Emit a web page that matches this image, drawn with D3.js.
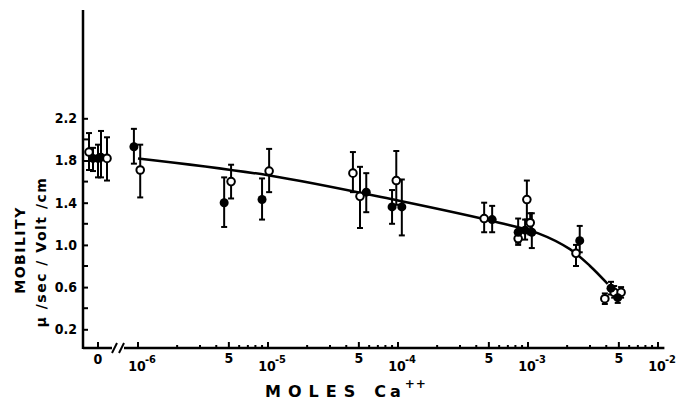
<!DOCTYPE html>
<html>
<head>
<meta charset="utf-8">
<script src="https://cdn.jsdelivr.net/npm/d3@7"></script>
<style>
  body { margin: 0; background: #fff; }
  svg { display: block; }
  text { font-family: "DejaVu Sans Condensed", "DejaVu Sans", sans-serif; font-weight: bold; fill: #000; }
</style>
</head>
<body>
<div id="chart"></div>
<script>
// open circles: concentration (M), mobility, error bar top, error bar bottom
var openConc = [1.04e-6, 5.2e-6, 1.02e-5, 4.5e-5, 5.1e-5, 9.7e-5, 4.6e-4, 8.4e-4, 9.8e-4, 1.04e-3, 2.34e-3, 3.9e-3, 4.6e-3, 5.2e-3];
var openMob  = [1.71, 1.60, 1.70, 1.68, 1.46, 1.61, 1.25, 1.06, 1.43, 1.21, 0.92, 0.49, 0.55, 0.55];
var openHi   = [1.95, 1.76, 1.91, 1.88, 1.74, 1.89, 1.40, 1.14, 1.61, 1.30, 1.00, 0.54, 0.61, 0.60];
var openLo   = [1.45, 1.44, 1.50, 1.50, 1.16, 1.38, 1.12, 1.00, 1.24, 1.10, 0.80, 0.44, 0.50, 0.50];

// filled circles
var filledConc = [9.3e-7, 4.6e-6, 9.0e-6, 5.7e-5, 9.0e-5, 1.07e-4, 5.3e-4, 8.4e-4, 9.5e-4, 1.07e-3, 2.5e-3, 4.35e-3, 4.9e-3];
var filledMob  = [1.93, 1.40, 1.43, 1.50, 1.36, 1.36, 1.24, 1.12, 1.14, 1.12, 1.04, 0.59, 0.50];
var filledHi   = [2.10, 1.64, 1.63, 1.68, 1.52, 1.62, 1.37, 1.25, 1.24, 1.30, 1.18, 0.65, 0.56];
var filledLo   = [1.77, 1.17, 1.24, 1.31, 1.20, 1.09, 1.12, 1.02, 1.05, 0.97, 0.93, 0.53, 0.45];

// points at zero calcium, spread a little around the "0" tick
var zeroJitter = [-0.9, -0.5, 0.0, 0.3, 0.9];
var zeroOpen   = [true, false, false, false, true];
var zeroMob    = [1.88, 1.82, 1.82, 1.83, 1.82];
var zeroHi     = [2.06, 1.92, 1.95, 2.08, 2.02];
var zeroLo     = [1.71, 1.70, 1.64, 1.64, 1.61];

// fitted curve
var curveConc = [1e-6, 1e-5, 1e-4, 6e-4, 1.2e-3, 2.1e-3, 3e-3, 4.1e-3];
var curveMob  = [1.82, 1.66, 1.42, 1.21, 1.11, 0.96, 0.80, 0.63];

var yTicks = [0.2, 0.6, 1.0, 1.4, 1.8, 2.2];
var yMinor = [0.4, 0.8, 1.2, 1.6, 2.0];
var xMajor = [1e-6, 5e-6, 1e-5, 5e-5, 1e-4, 5e-4, 1e-3, 5e-3, 1e-2];

var W = 678, H = 401;
var axisX = 83, axisY = 348, yTop = 10;

var svg = d3.select("#chart").append("svg")
    .attr("width", W)
    .attr("height", H);

var x = d3.scaleLog().domain([1e-6, 1e-2]).range([138, 658]);
var x0 = d3.scaleLinear().domain([-1, 1]).range([88, 108]);
var y = d3.scaleLinear().domain([0, 2.2]).range([350.4, 118.3]);

// Y axis
var yAxis = svg.append("g").attr("transform", "translate(" + axisX + ",0)");
yAxis.call(d3.axisLeft(y).tickValues(yTicks).tickSizeInner(-5).tickSizeOuter(0).tickPadding(6)
    .tickFormat(d3.format(".1f")));
yAxis.select(".domain").remove();
yAxis.selectAll(".tick line").attr("stroke-width", 2);
yAxis.selectAll(".tick text").style("font-size", "14px").attr("fill", "#000");
yAxis.selectAll(".minor").data(yMinor).enter().append("line")
    .attr("x1", 0).attr("x2", 5)
    .attr("y1", function (d) { return y(d); }).attr("y2", function (d) { return y(d); })
    .attr("stroke", "#000").attr("stroke-width", 2);
yAxis.append("line")
    .attr("x1", 0).attr("x2", 0).attr("y1", yTop).attr("y2", axisY + 1)
    .attr("stroke", "#000").attr("stroke-width", 2.5);

// X axis with a break between 0 and 10^-6
var xg = svg.append("g").attr("transform", "translate(0," + axisY + ")");
xg.append("line").attr("x1", axisX).attr("x2", 112).attr("y1", 0).attr("y2", 0)
    .attr("stroke", "#000").attr("stroke-width", 2.5);
xg.append("line").attr("x1", 124).attr("x2", x(1.12e-2)).attr("y1", 0).attr("y2", 0)
    .attr("stroke", "#000").attr("stroke-width", 2.5);
[112, 119].forEach(function (bx) {
  xg.append("line").attr("x1", bx).attr("x2", bx + 5).attr("y1", 5).attr("y2", -5)
      .attr("stroke", "#000").attr("stroke-width", 2);
});

var minorTicks = [];
for (var e = -6; e < -2; e++) {
  for (var m = 2; m <= 9; m++) {
    if (m !== 5) minorTicks.push(m * Math.pow(10, e));
  }
}
xg.selectAll(".xminor").data(minorTicks).enter().append("line")
    .attr("x1", function (d) { return x(d); }).attr("x2", function (d) { return x(d); })
    .attr("y1", 0).attr("y2", -3)
    .attr("stroke", "#000").attr("stroke-width", 2);
xg.selectAll(".xmajor").data(xMajor).enter().append("line")
    .attr("x1", function (d) { return x(d); }).attr("x2", function (d) { return x(d); })
    .attr("y1", 0).attr("y2", -6)
    .attr("stroke", "#000").attr("stroke-width", 2);
xg.append("line").attr("x1", x0(0)).attr("x2", x0(0)).attr("y1", 0).attr("y2", -6)
    .attr("stroke", "#000").attr("stroke-width", 2);
xg.append("text").attr("x", x0(0)).attr("y", 16).attr("text-anchor", "middle")
    .style("font-size", "14px").text("0");

xMajor.forEach(function (d) {
  var ex = Math.floor(Math.log10(d) + 1e-9);
  var mant = Math.round(d / Math.pow(10, ex));
  if (mant === 1) {
    xg.append("text").attr("x", x(d) - 1).attr("y", 23).attr("text-anchor", "middle")
        .style("font-size", "14px").text("10");
    xg.append("text").attr("x", x(d) + 7).attr("y", 15).attr("text-anchor", "start")
        .style("font-size", "11px").text(String(ex));
  } else {
    xg.append("text").attr("x", x(d)).attr("y", 15).attr("text-anchor", "middle")
        .style("font-size", "14px").text(String(mant));
  }
});

// axis titles
var xt = svg.append("text").attr("x", 265).attr("y", 397)
    .style("font-size", "16px").style("letter-spacing", "7px")
    .style("font-family", "'DejaVu Sans', sans-serif");
xt.append("tspan").text("MOLES");
xt.append("tspan").attr("dx", 12).style("letter-spacing", "4px").text("Ca");
xt.append("tspan").attr("dy", -9).style("font-size", "12px").style("letter-spacing", "1px").text("++");

svg.append("text")
    .attr("transform", "translate(25,250) rotate(-90)")
    .attr("text-anchor", "middle")
    .style("font-size", "14px").style("letter-spacing", "1.5px")
    .style("font-family", "'DejaVu Sans', sans-serif")
    .text("MOBILITY");
svg.append("text")
    .attr("transform", "translate(46,252) rotate(-90)")
    .attr("text-anchor", "middle")
    .style("font-size", "14px").style("letter-spacing", "1.5px")
    .style("font-family", "'DejaVu Sans', sans-serif")
    .text("\u03bc /sec / Volt /cm");

// fitted curve
var line = d3.line()
    .x(function (d, i) { return x(curveConc[i]); })
    .y(function (d) { return y(d); })
    .curve(d3.curveCatmullRom.alpha(0.5));
svg.append("path").datum(curveMob)
    .attr("d", line)
    .attr("fill", "none").attr("stroke", "#000").attr("stroke-width", 2.5);

// build point table
var points = [];
openConc.forEach(function (c, i) {
  points.push({px: x(c), mob: openMob[i], hi: openHi[i], lo: openLo[i], open: true});
});
filledConc.forEach(function (c, i) {
  points.push({px: x(c), mob: filledMob[i], hi: filledHi[i], lo: filledLo[i], open: false});
});
zeroJitter.forEach(function (j, i) {
  points.push({px: x0(j), mob: zeroMob[i], hi: zeroHi[i], lo: zeroLo[i], open: zeroOpen[i]});
});

var pts = svg.append("g");
var bars = pts.selectAll(".bar").data(points).enter().append("g");
bars.append("line")
    .attr("x1", function (d) { return d.px; }).attr("x2", function (d) { return d.px; })
    .attr("y1", function (d) { return y(d.hi); }).attr("y2", function (d) { return y(d.lo); })
    .attr("stroke", "#000").attr("stroke-width", 2);
bars.append("line")
    .attr("x1", function (d) { return d.px - 3; }).attr("x2", function (d) { return d.px + 3; })
    .attr("y1", function (d) { return y(d.hi); }).attr("y2", function (d) { return y(d.hi); })
    .attr("stroke", "#000").attr("stroke-width", 2);
bars.append("line")
    .attr("x1", function (d) { return d.px - 3; }).attr("x2", function (d) { return d.px + 3; })
    .attr("y1", function (d) { return y(d.lo); }).attr("y2", function (d) { return y(d.lo); })
    .attr("stroke", "#000").attr("stroke-width", 2);

pts.selectAll("circle").data(points).enter().append("circle")
    .attr("cx", function (d) { return d.px; })
    .attr("cy", function (d) { return y(d.mob); })
    .attr("r", function (d) { return d.open ? 3.8 : 4.5; })
    .attr("fill", function (d) { return d.open ? "#fff" : "#000"; })
    .attr("stroke", "#000")
    .attr("stroke-width", function (d) { return d.open ? 2 : 0; });
</script>
</body>
</html>
